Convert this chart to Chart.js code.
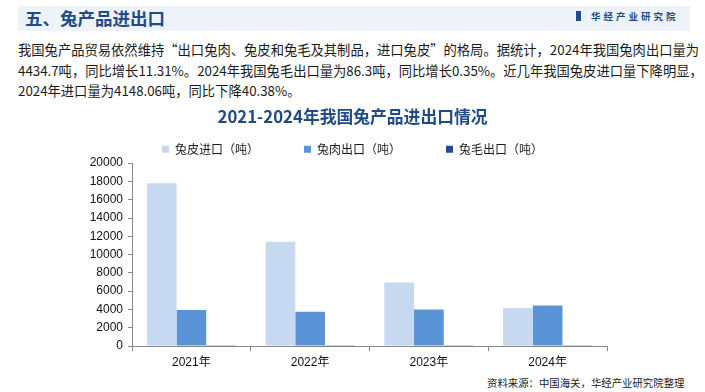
<!DOCTYPE html>
<html>
<head>
<meta charset="utf-8">
<script src="https://cdn.jsdelivr.net/npm/chart.js@4/dist/chart.umd.min.js"></script>
<style>
  body { margin: 0; width: 705px; height: 392px; background: #fff; position: relative; overflow: hidden;
         font-family: "Noto Sans CJK SC", sans-serif; }
  .band { position: absolute; left: 18px; top: 6px; width: 672px; height: 25px; background: #eef3fa; }
  .head { position: absolute; left: 25px; top: 4px; font-size: 17.5px; font-weight: bold; color: #1f4b8a; line-height: 28px; }
  .logo { position: absolute; left: 576px; top: 10px; font-size: 9.5px; font-weight: bold; color: #1f4b8a; letter-spacing: 3px; line-height: 13px; }
  .logo i { display: inline-block; width: 5px; height: 10px; background: #1f4b8a; margin-right: 10px; vertical-align: -1px; }
  .para { position: absolute; left: 18px; top: 40px; width: 670px; font-size: 13.3px; line-height: 20.5px; color: #1a1a1a; }
  .para div { white-space: nowrap; }
  .para .j { text-align: justify; text-align-last: justify; }
  .src { position: absolute; left: 487px; top: 375px; font-size: 10.4px; color: #222; line-height: 16px; }
  #wrap { position: absolute; left: 0; top: 60px; width: 705px; height: 312px; }
</style>
</head>
<body>
<div class="band"></div>
<div class="head">五、兔产品进出口</div>
<div class="logo"><i></i>华经产业研究院</div>
<div class="para">
  <div class="j">我国兔产品贸易依然维持“出口兔肉、兔皮和兔毛及其制品，进口兔皮”的格局。据统计，2024年我国兔肉出口量为</div>
  <div class="j">4434.7吨，同比增长11.31%。2024年我国兔毛出口量为86.3吨，同比增长0.35%。近几年我国兔皮进口量下降明显，</div>
  <div>2024年进口量为4148.06吨，同比下降40.38%。</div>
</div>
<div class="src">资料来源：中国海关，华经产业研究院整理</div>
<div id="wrap"><canvas id="myChart"></canvas></div>
<script>
// 年份
const years = ["2021年", "2022年", "2023年", "2024年"];
// 兔皮进口（吨）
const skinImport = [17800, 11400, 6958, 4148.06];
// 兔肉出口（吨）
const meatExport = [3930, 3760, 3984, 4434.7];
// 兔毛出口（吨）
const woolExport = [95, 90, 86, 86.3];
// 纵轴刻度
const yTicks = [0, 2000, 4000, 6000, 8000, 10000, 12000, 14000, 16000, 18000, 20000];

const tickFont = { family: "'Liberation Sans', 'Noto Sans CJK SC', sans-serif", size: 12 };

const ctx = document.getElementById("myChart").getContext("2d");

new Chart(ctx, {
  type: "bar",
  data: {
    labels: years,
    datasets: [
      { label: "兔皮进口（吨）", data: skinImport, backgroundColor: "#c6d9f1" },
      { label: "兔肉出口（吨）", data: meatExport, backgroundColor: "#5b93d7" },
      { label: "兔毛出口（吨）", data: woolExport, backgroundColor: "#1f4e8c" },
    ],
  },
  options: {
    responsive: true,
    maintainAspectRatio: false,
    animation: false,
    layout: { padding: 0 },
    datasets: { bar: { categoryPercentage: 0.75, barPercentage: 1.0 } },
    plugins: {
      title: {
        display: true,
        text: "2021-2024年我国兔产品进出口情况",
        color: "#1f4b8a",
        font: { family: "'Noto Sans CJK SC', sans-serif", size: 16.8, weight: "bold" },
        padding: { top: 47, bottom: -29 },
      },
      legend: {
        position: "top",
        maxHeight: 65,
        labels: {
          boxWidth: 7,
          boxHeight: 7,
          padding: 45,
          color: "#1a1a1a",
          font: { family: "'Noto Sans CJK SC', sans-serif", size: 12 },
        },
      },
      tooltip: { enabled: false },
    },
    scales: {
      x: {
        grid: { display: true, drawOnChartArea: false, drawTicks: true, tickLength: 5, color: "#888", offset: true },
        border: { display: true, color: "#888" },
        ticks: { color: "#111", font: tickFont, padding: 4 },
        afterFit: (scale) => { scale.height = 26; },
      },
      y: {
        min: 0,
        max: 20000,
        afterBuildTicks: (scale) => { scale.ticks = yTicks.map((v) => ({ value: v })); },
        ticks: { autoSkip: false, color: "#111", font: tickFont, padding: 5, callback: (v) => String(v) },
        grid: { display: true, drawOnChartArea: false, drawTicks: true, tickLength: 4, color: "#888" },
        border: { display: true, color: "#888" },
        afterFit: (scale) => { scale.width = 132; },
      },
      // 右侧留白
      yR: {
        position: "right",
        display: true,
        grid: { display: false },
        border: { display: false },
        ticks: { display: false },
        afterFit: (scale) => { scale.width = 98; },
      },
    },
  },
});
</script>
</body>
</html>
